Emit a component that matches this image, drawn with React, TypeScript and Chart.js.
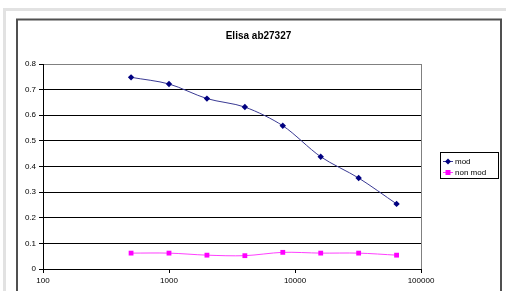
import React, { useEffect, useRef } from "react";
import { Chart, registerables } from "chart.js";

Chart.register(...registerables);

const dilutions = [500, 1000, 2000, 4000, 8000, 16000, 32000, 64000];
const modValues = [0.748, 0.722, 0.665, 0.632, 0.559, 0.438, 0.355, 0.254];
const nonModValues = [0.062, 0.062, 0.054, 0.052, 0.065, 0.062, 0.062, 0.054];
const xTickValues = [100, 1000, 10000, 100000];
const seriesNames = ["mod", "non mod"];
const chartTitle = "Elisa ab27327";

const FONT = "'Liberation Sans', Arial, sans-serif";
const MOD_COLOR = "#000080";
const MOD_LINE = "#3a3a94";
const NONMOD_COLOR = "#ff00ff";
const NONMOD_LINE = "#ff40ff";

const decorPlugin = {
  id: "decor",
  beforeDraw(chart: any) {
    const ctx = chart.ctx;
    ctx.save();
    ctx.fillStyle = "#ffffff";
    ctx.fillRect(0, 0, chart.width, chart.height);
    // outer light frame
    ctx.fillStyle = "#e2e2e2";
    ctx.fillRect(3, 8, 3, chart.height - 8);
    ctx.fillRect(3, 8, chart.width - 3, 3);
    // chart border
    ctx.strokeStyle = "#505050";
    ctx.lineWidth = 2;
    ctx.strokeRect(17, 19.5, 484, chart.height + 10);
    ctx.restore();
  },
  afterDraw(chart: any) {
    const ctx = chart.ctx;
    const a = chart.chartArea;
    ctx.save();
    // plot area right border (gray)
    ctx.strokeStyle = "#808080";
    ctx.lineWidth = 1;
    ctx.beginPath();
    ctx.moveTo(Math.round(a.right) + 0.5, a.top);
    ctx.lineTo(Math.round(a.right) + 0.5, a.bottom);
    ctx.stroke();
    // title
    ctx.fillStyle = "#000";
    ctx.font = "bold 10px " + FONT;
    ctx.textAlign = "center";
    ctx.textBaseline = "middle";
    ctx.fillText(chartTitle, 258.5, 36);
    // legend
    const bx = 440.5, by = 152.5, bw = 58, bh = 26;
    ctx.fillStyle = "#fff";
    ctx.fillRect(bx, by, bw, bh);
    ctx.strokeStyle = "#000";
    ctx.lineWidth = 1;
    ctx.strokeRect(bx, by, bw, bh);
    const rows = [
      { y: 161.5, line: MOD_LINE, mark: MOD_COLOR, shape: "diamond", name: seriesNames[0] },
      { y: 172.5, line: NONMOD_LINE, mark: NONMOD_COLOR, shape: "square", name: seriesNames[1] },
    ];
    ctx.font = "8px " + FONT;
    ctx.textAlign = "left";
    rows.forEach((r) => {
      ctx.strokeStyle = r.line;
      ctx.beginPath();
      ctx.moveTo(443, r.y);
      ctx.lineTo(453, r.y);
      ctx.stroke();
      ctx.fillStyle = r.mark;
      ctx.beginPath();
      if (r.shape === "diamond") {
        ctx.moveTo(448, r.y - 3);
        ctx.lineTo(451, r.y);
        ctx.lineTo(448, r.y + 3);
        ctx.lineTo(445, r.y);
        ctx.closePath();
      } else {
        ctx.rect(445.5, r.y - 2.5, 5, 5);
      }
      ctx.fill();
      ctx.fillStyle = "#000";
      ctx.fillText(r.name, 455, r.y + 0.5);
    });
    ctx.restore();
  },
};

export default function App() {
  const ref = useRef<HTMLCanvasElement | null>(null);
  useEffect(() => {
    document.body.style.margin = "0";
    const canvas = ref.current!;
    const chart = new Chart(canvas, {
      type: "line",
      data: {
        datasets: [
          {
            label: seriesNames[0],
            data: dilutions.map((x, i) => ({ x, y: modValues[i] })),
            borderColor: MOD_LINE,
            backgroundColor: MOD_COLOR,
            pointBackgroundColor: MOD_COLOR,
            pointBorderColor: MOD_COLOR,
            pointStyle: "rectRot",
            pointRadius: 3.2,
            borderWidth: 1,
            pointBorderWidth: 0,
            tension: 0.3,
            fill: false,
          },
          {
            label: seriesNames[1],
            data: dilutions.map((x, i) => ({ x, y: nonModValues[i] })),
            borderColor: NONMOD_LINE,
            backgroundColor: NONMOD_COLOR,
            pointBackgroundColor: NONMOD_COLOR,
            pointBorderColor: NONMOD_COLOR,
            pointStyle: "rect",
            pointRadius: 3.4,
            borderWidth: 1,
            pointBorderWidth: 0,
            tension: 0.3,
            fill: false,
          },
        ],
      },
      options: {
        responsive: false,
        animation: false,
        devicePixelRatio: 1,
        layout: { padding: { left: 16, right: 85, top: 64, bottom: 0 } },
        plugins: {
          legend: { display: false },
          title: { display: false },
          tooltip: { enabled: false },
        },
        scales: {
          x: {
            type: "logarithmic",
            min: 100,
            max: 100000,
            afterBuildTicks: (s: any) => {
              s.ticks = xTickValues.map((v) => ({ value: v }));
            },
            afterFit: (s: any) => {
              s.height = 22;
            },
            ticks: {
              autoSkip: false,
              maxRotation: 0,
              padding: 3,
              color: "#000",
              font: { family: FONT, size: 8 },
              callback: (v: any) => String(v),
            },
            grid: {
              display: true,
              drawOnChartArea: false,
              drawTicks: true,
              tickLength: 4,
              color: "#000",
            },
            border: { display: true, color: "#000", width: 1 },
          },
          y: {
            type: "linear",
            min: 0,
            max: 0.8,
            afterFit: (s: any) => {
              s.width = 27;
            },
            ticks: {
              stepSize: 0.1,
              padding: 3,
              color: "#000",
              font: { family: FONT, size: 8 },
            },
            grid: {
              color: (c: any) => (c.tick && Math.abs(c.tick.value - 0.8) < 1e-6 ? "#808080" : "#000"),
              tickColor: "#000",
              tickLength: 4,
              lineWidth: 1,
            },
            border: { display: true, color: "#000", width: 1 },
          },
        },
      },
      plugins: [decorPlugin],
    });
    return () => chart.destroy();
  }, []);
  return (
    <div style={{ width: 506, height: 291, position: "relative", background: "#fff" }}>
      <canvas ref={ref} width={506} height={291} style={{ display: "block", width: 506, height: 291 }} />
    </div>
  );
}
